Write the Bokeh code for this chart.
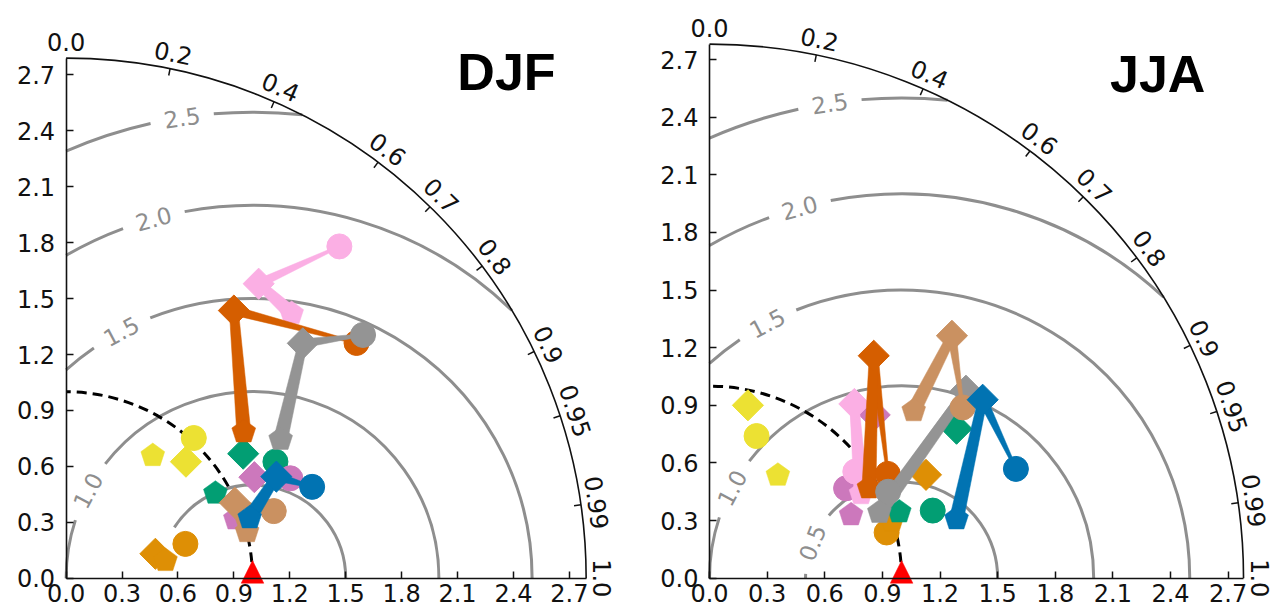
import numpy as np
from bokeh.plotting import figure
from bokeh.layouts import row
from bokeh.models import Label, Range1d, FixedTicker, NumeralTickFormatter
from bokeh.core.properties import value
from bokeh.embed import file_html
from bokeh.resources import INLINE

# ---------------- data ----------------
SERIES = ["blue", "orange", "green", "vermilion", "purple", "brown", "pink", "grey", "yellow"]
COLORS = ["#0173B2", "#DE8F05", "#029E73", "#D55E00", "#CC78BC", "#CA9161", "#FBAFE4", "#949494", "#ECE133"]
CONNECTED = ["vermilion", "pink", "grey", "blue", "brown"]
DRAW_ORDER = ["yellow", "orange", "green", "purple", "pink", "vermilion", "grey", "brown", "blue"]

REF_STD = 1.0
STD_TICKS = [0.0, 0.3, 0.6, 0.9, 1.2, 1.5, 1.8, 2.1, 2.4, 2.7]
CORR_TICKS = [0.0, 0.2, 0.4, 0.6, 0.7, 0.8, 0.9, 0.95, 0.99, 1.0]
CORR_LABELS = ["0.0", "0.2", "0.4", "0.6", "0.7", "0.8", "0.9", "0.95", "0.99", "1.0"]
RMS_LEVELS = [0.5, 1.0, 1.5, 2.0, 2.5]
RMS_LABELS = ["0.5", "1.0", "1.5", "2.0", "2.5"]

# DJF  (x = std*corr, y = std*sqrt(1-corr^2)), order as SERIES
DJF_CIRCLE_X = [1.32, 0.64, 1.123, 1.558, 1.203, 1.114, 1.466, 1.593, 0.685]
DJF_CIRCLE_Y = [0.49, 0.184, 0.625, 1.262, 0.536, 0.36, 1.78, 1.305, 0.752]
DJF_DIAMOND_X = [1.128, 0.479, 0.95, 0.9, 1.01, 0.905, 1.033, 1.27, 0.643]
DJF_DIAMOND_Y = [0.545, 0.131, 0.668, 1.436, 0.542, 0.405, 1.58, 1.26, 0.625]
DJF_PENT_X = [0.985, 0.533, 0.801, 0.953, 0.908, 0.971, 1.21, 1.151, 0.465]
DJF_PENT_Y = [0.324, 0.095, 0.456, 0.785, 0.318, 0.25, 1.42, 0.745, 0.658]

# JJA
JJA_CIRCLE_X = [1.595, 0.922, 1.162, 0.928, 0.711, 1.318, 0.759, 0.93, 0.245]
JJA_CIRCLE_Y = [0.569, 0.238, 0.352, 0.543, 0.468, 0.889, 0.555, 0.45, 0.74]
JJA_DIAMOND_X = [1.422, 1.127, 1.286, 0.855, 0.86, 1.262, 0.754, 1.335, 0.2]
JJA_DIAMOND_Y = [0.929, 0.538, 0.778, 1.158, 0.85, 1.262, 0.907, 0.976, 0.9]
JJA_PENT_X = [1.286, 0.95, 0.988, 0.83, 0.737, 1.063, 0.789, 0.884, 0.356]
JJA_PENT_Y = [0.309, 0.3, 0.345, 0.47, 0.33, 0.872, 0.44, 0.343, 0.536]

# contour label angles (deg, around reference point); nan = no label
DJF_RMS_LABEL_ANGLE = [np.nan, 152.0, 118.0, 105.4, 98.7]
JJA_RMS_LABEL_ANGLE = [158.3, 152.0, 117.8, 105.4, 98.6]
DJF_RMS_ARC_END = [147.0, 180.0, 180.0, 180.0, 180.0]
JJA_RMS_ARC_END = [180.0, 180.0, 180.0, 180.0, 180.0]

# ---------------- style ----------------
FONT = "DejaVu Sans"
TICK_FS = "24px"
CONT_FS = "23px"
GREY = "#8e8e8e"
INK = "#111111"
GAP_PX = 32
LAB_OFF_PX = 16
TICK_PX = 7
HW_PX = [1.2, 4.5, 7.0]
CIRC_SIZE = 25
DIAM_SIZE = 22
PENT_R_PX = 12.5
FIG_H = 610


def make_panel(title, cx, cy, dx, dy, qx, qy, lab_ang, arc_end, fig_w, scale, rmax,
               origin_px, title_xy):
    s = scale
    ox, oy = origin_px            # origin position inside the canvas (from top-left)
    x0r, x1r = -ox / s, (fig_w - ox) / s
    y0r, y1r = -(FIG_H - oy) / s, oy / s
    p = figure(frame_width=fig_w, frame_height=FIG_H,
               x_range=Range1d(x0r, x1r), y_range=Range1d(y0r, y1r),
               output_backend="svg", toolbar_location=None,
               min_border_left=0, min_border_right=0,
               min_border_top=0, min_border_bottom=0,
               background_fill_color="white", border_fill_color="white")
    p.grid.visible = False
    p.outline_line_color = None
    for ax in (p.xaxis[0], p.yaxis[0]):
        ax.fixed_location = 0
        ax.bounds = (0, rmax)
        ax.ticker = FixedTicker(ticks=STD_TICKS)
        ax.formatter = NumeralTickFormatter(format="0.0")
        ax.major_tick_in = TICK_PX
        ax.major_tick_out = 0
        ax.minor_tick_line_color = None
        ax.axis_line_width = 1.6
        ax.major_tick_line_width = 1.5
        ax.axis_line_color = INK
        ax.major_tick_line_color = INK
        ax.major_label_text_font = FONT
        ax.major_label_text_font_size = TICK_FS
        ax.major_label_text_color = INK
    p.xaxis.major_label_standoff = 6
    p.yaxis.major_label_standoff = 11

    # RMS contours (centred on reference point)
    ax_, ay_, ar_, as_, ae_ = [], [], [], [], []
    tx, ty, tt, ta = [], [], [], []
    for lev, lab, ang, end in zip(RMS_LEVELS, RMS_LABELS, lab_ang, arc_end):
        xi = (rmax ** 2 - lev ** 2 + REF_STD ** 2) / (2 * REF_STD)
        if rmax >= REF_STD + lev:
            start = 0.0
        else:
            start = np.arctan2(np.sqrt(max(rmax ** 2 - xi ** 2, 0)), xi - REF_STD)
        stop = np.arccos(-REF_STD / lev) if lev > REF_STD else np.pi
        end_r = min(np.radians(end), stop)
        if np.isnan(ang):
            pieces = [(start, end_r)]
        else:
            a = np.radians(ang)
            g = GAP_PX / (lev * s)
            pieces = [(start, a - g), (a + g, end_r)]
            tx.append(REF_STD + lev * np.cos(a))
            ty.append(lev * np.sin(a))
            tt.append(lab)
            ta.append(a - np.pi / 2)
        for s0, s1 in pieces:
            if s1 > s0:
                ax_.append(REF_STD); ay_.append(0.0); ar_.append(lev)
                as_.append(s0); ae_.append(s1)
    p.arc(x=ax_, y=ay_, radius=ar_, start_angle=as_, end_angle=ae_,
          line_color=GREY, line_width=3)
    p.text(x=tx, y=ty, text=tt, angle=ta, text_color=GREY,
           text_font=value(FONT), text_font_size=CONT_FS,
           text_align="center", text_baseline="middle")

    # reference std dashed arc
    p.arc(x=[0], y=[0], radius=[REF_STD], start_angle=[0], end_angle=[np.pi / 2],
          line_color="black", line_width=3, line_dash="10 6")
    # outer arc
    p.arc(x=[0], y=[0], radius=[rmax], start_angle=[0], end_angle=[np.pi / 2],
          line_color=INK, line_width=1.6)

    # correlation ticks and labels
    th = np.arccos(np.array(CORR_TICKS))
    L = TICK_PX / s
    inner = [t for t in th if 1e-6 < t < np.pi / 2 - 1e-6]
    p.segment(x0=[rmax * np.cos(t) for t in inner], y0=[rmax * np.sin(t) for t in inner],
              x1=[(rmax - L) * np.cos(t) for t in inner], y1=[(rmax - L) * np.sin(t) for t in inner],
              line_color=INK, line_width=1.5)
    rl = rmax + LAB_OFF_PX / s
    for t, lab in zip(th, CORR_LABELS):
        p.add_layout(Label(x=rl * np.cos(t), y=rl * np.sin(t), text=lab, angle=t - np.pi / 2,
                           text_align="center", text_baseline="middle",
                           text_font=FONT, text_font_size=TICK_FS, text_color=INK))

    # model markers
    pr = PENT_R_PX / s
    k = np.arange(5)
    for name in DRAW_ORDER:
        i = SERIES.index(name)
        col = COLORS[i]
        if name in CONNECTED:
            pts = [(cx[i], cy[i]), (dx[i], dy[i]), (qx[i], qy[i])]
            hws = [h / s for h in HW_PX]
            xs, ys = [], []
            for j in range(2):
                (xa, ya), (xb, yb) = pts[j], pts[j + 1]
                ddx, ddy = xb - xa, yb - ya
                ln = np.hypot(ddx, ddy)
                nx, ny = -ddy / ln, ddx / ln
                h0, h1 = hws[j], hws[j + 1]
                xs.append([xa + nx * h0, xb + nx * h1, xb - nx * h1, xa - nx * h0])
                ys.append([ya + ny * h0, yb + ny * h1, yb - ny * h1, ya - ny * h0])
            p.patches(xs=xs, ys=ys, fill_color=col, line_color=col, line_width=0.5)
        p.scatter(x=[cx[i]], y=[cy[i]], marker="circle", size=CIRC_SIZE,
                  fill_color=col, line_color=col)
        p.scatter(x=[dx[i]], y=[dy[i]], marker="square", angle=np.pi / 4, size=DIAM_SIZE,
                  fill_color=col, line_color=col)
        p.patch(x=list(qx[i] + pr * np.sin(2 * np.pi * k / 5)),
                y=list(qy[i] + pr * np.cos(2 * np.pi * k / 5)),
                fill_color=col, line_color=col, line_width=0.5)

    # reference point (observations)
    p.patch(x=[REF_STD - 11.3 / s, REF_STD + 11.3 / s, REF_STD],
            y=[-5 / s, -5 / s, 17.7 / s],
            fill_color="red", line_color="red", line_width=0.5)

    p.add_layout(Label(x=title_xy[0], y=title_xy[1], text=title,
                       text_font="Liberation Sans", text_font_style="bold",
                       text_font_size="52px", text_color="black",
                       text_baseline="alphabetic", text_align="left"))
    return p


p1 = make_panel("DJF", DJF_CIRCLE_X, DJF_CIRCLE_Y, DJF_DIAMOND_X, DJF_DIAMOND_Y,
                DJF_PENT_X, DJF_PENT_Y, DJF_RMS_LABEL_ANGLE, DJF_RMS_ARC_END,
                fig_w=651, scale=186.4, rmax=2.79, origin_px=(65.6, 577.7),
                title_xy=(2.099, 2.718))
p2 = make_panel("JJA", JJA_CIRCLE_X, JJA_CIRCLE_Y, JJA_DIAMOND_X, JJA_DIAMOND_Y,
                JJA_PENT_X, JJA_PENT_Y, JJA_RMS_LABEL_ANGLE, JJA_RMS_ARC_END,
                fig_w=623, scale=192.1, rmax=2.78, origin_px=(58.0, 577.7),
                title_xy=(2.085, 2.626))

layout = row(p1, p2)
open("out.html", "w").write(file_html(layout, INLINE))
